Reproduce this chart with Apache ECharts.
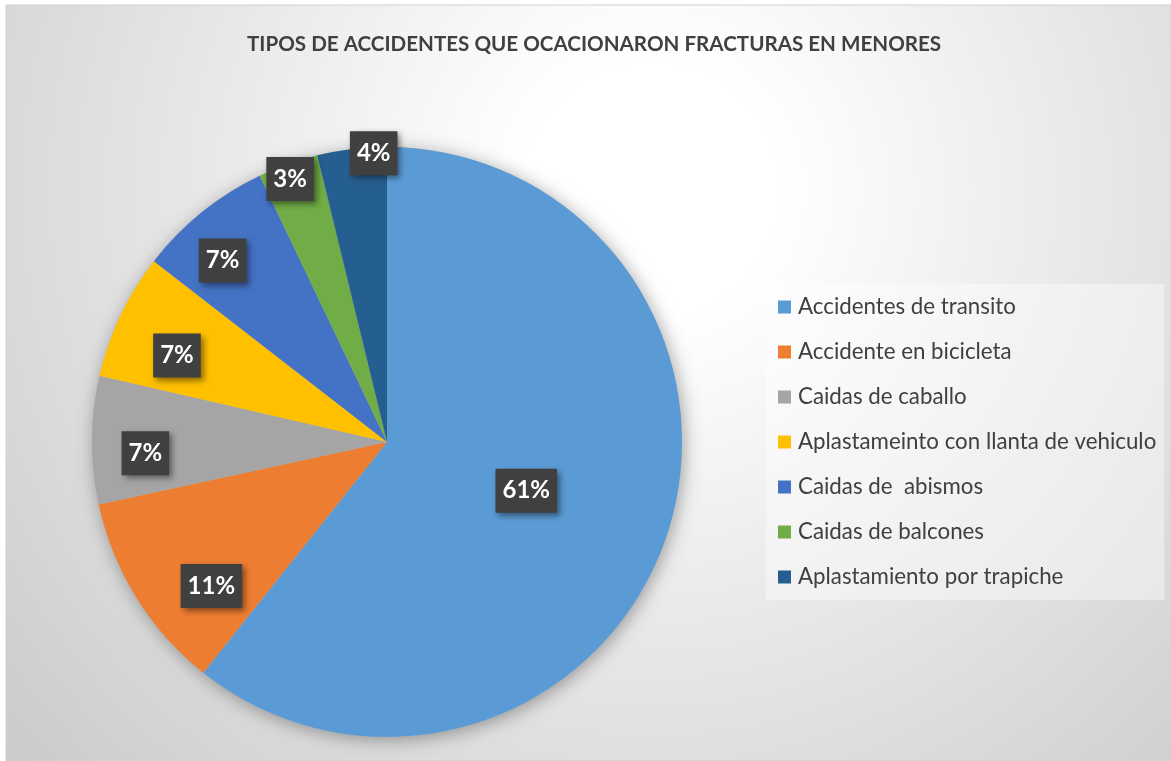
<!DOCTYPE html>
<html>
<head>
<meta charset="utf-8">
<script src="https://cdn.jsdelivr.net/npm/echarts@6/dist/echarts.min.js"></script>
<style>
html, body { margin: 0; padding: 0; background: #fff; }
#main { width: 1171px; height: 761px; }
</style>
</head>
<body>
<div id="main"></div>
<script>
var categories = [
    'Accidentes de transito',
    'Accidente en bicicleta',
    'Caidas de caballo',
    'Aplastameinto con llanta de vehiculo',
    'Caidas de  abismos',
    'Caidas de balcones',
    'Aplastamiento por trapiche'
];
// share of each slice (percent)
var shares = [60.7, 10.9, 7.0, 6.9, 7.4, 3.3, 3.8];
var colors = ['#5B9BD5', '#ED7D31', '#A5A5A5', '#FFC000', '#4472C4', '#70AD47', '#255E91'];

// pie geometry
var cx = 387, cy = 442, R = 295;
// where the labels sit: fraction of radius, and angle nudge in degrees
var labelRadius = [0.5, 0.77, 0.82, 0.77, 0.83, 0.95, 0.98];
var labelNudge = [0, -7.5, -3, -3, -3.3, -0.6, 4.2];

var total = shares.reduce(function (a, b) { return a + b; }, 0);
var midAngle = [];
var acc = 0;
shares.forEach(function (v) {
    midAngle.push((acc + v / 2) / total * 360);
    acc += v;
});

var pieData = categories.map(function (name, i) {
    return { name: name, value: shares[i], itemStyle: { color: colors[i] } };
});

var myChart = echarts.init(document.getElementById('main'));

var option = {
    animation: false,
    graphic: [{
        type: 'rect',
        silent: true,
        z: -10,
        shape: { x: 6, y: 5, width: 1165, height: 756 },
        style: {
            fill: new echarts.graphic.RadialGradient(650, 190, 850, [
                { offset: 0, color: '#ffffff' },
                { offset: 0.15, color: '#ffffff' },
                { offset: 1, color: '#cbcbcb' }
            ], true),
            stroke: '#d0d0d0'
        }
    }],
    title: {
        text: 'TIPOS DE ACCIDENTES QUE OCACIONARON FRACTURAS EN MENORES',
        left: 242,
        top: 29,
        textStyle: {
            fontFamily: 'Lato',
            fontSize: 20.6,
            fontWeight: 'bold',
            color: '#404040'
        }
    },
    legend: {
        data: categories,
        orient: 'vertical',
        left: 766,
        top: 284,
        padding: [12, 8, 12, 12],
        backgroundColor: 'rgba(255,255,255,0.4)',
        icon: 'rect',
        itemWidth: 13,
        itemHeight: 13,
        itemGap: 23,
        textStyle: {
            fontFamily: 'Lato',
            fontSize: 22.3,
            lineHeight: 22,
            color: '#404040',
            padding: [0, 0, 0, 2]
        }
    },
    series: [
        {
            // soft shadow under the whole pie
            type: 'pie',
            silent: true,
            z: 1,
            center: [cx, cy],
            radius: R,
            label: { show: false },
            labelLine: { show: false },
            itemStyle: {
                color: '#bbbbbb',
                shadowBlur: 18,
                shadowColor: 'rgba(0,0,0,0.35)',
                shadowOffsetX: 2,
                shadowOffsetY: 3
            },
            data: [{ name: 'sombra', value: 1 }]
        },
        {
            type: 'pie',
            z: 2,
            center: [cx, cy],
            radius: R,
            startAngle: 90,
            clockwise: true,
            percentPrecision: 0,
            itemStyle: { borderWidth: 0 },
            labelLine: { show: false },
            label: {
                show: true,
                position: 'inside',
                formatter: '{d}%',
                fontFamily: 'Lato',
                fontSize: 24,
                fontWeight: 'bold',
                color: '#ffffff',
                lineHeight: 28,
                backgroundColor: '#404040',
                padding: [8, 7],
                shadowColor: 'rgba(0,0,0,0.45)',
                shadowBlur: 6,
                shadowOffsetX: 3,
                shadowOffsetY: 3
            },
            labelLayout: function (params) {
                var i = params.dataIndex;
                var a = (midAngle[i] + labelNudge[i]) * Math.PI / 180;
                var r = labelRadius[i] * R;
                return {
                    x: cx + r * Math.sin(a),
                    y: cy - r * Math.cos(a),
                    align: 'center',
                    verticalAlign: 'middle'
                };
            },
            data: pieData
        }
    ]
};

myChart.setOption(option);
</script>
</body>
</html>
